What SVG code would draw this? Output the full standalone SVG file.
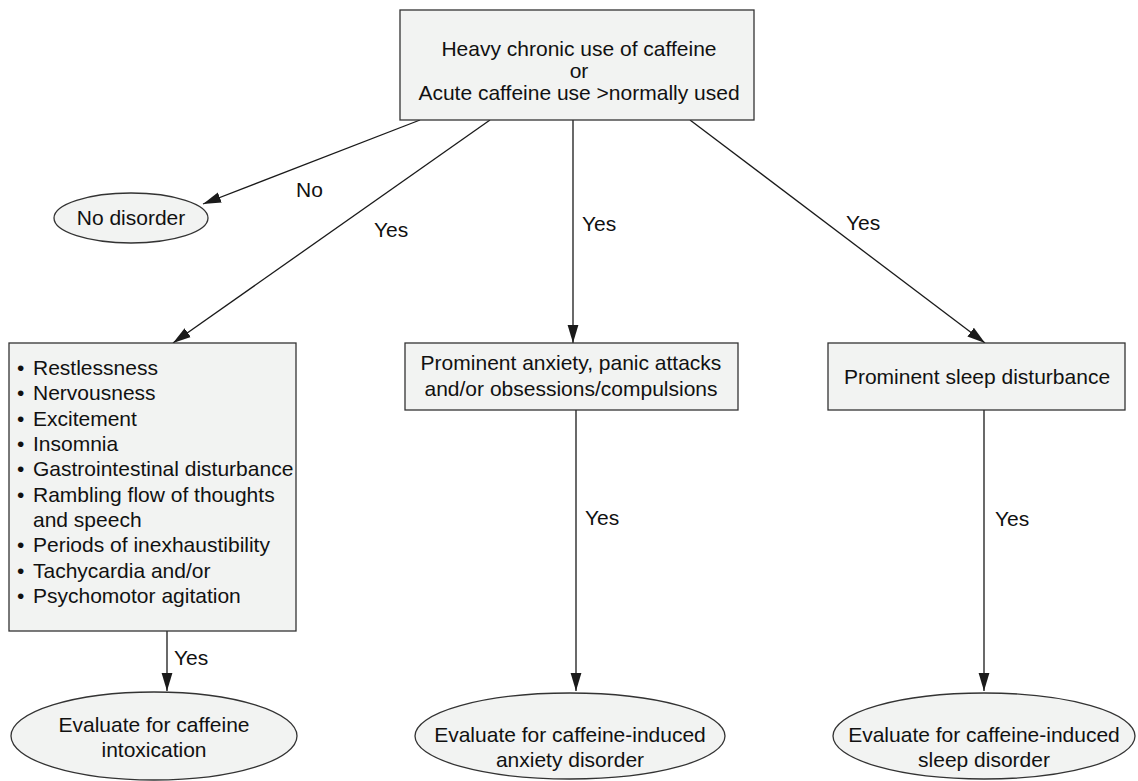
<svg xmlns="http://www.w3.org/2000/svg" width="1138" height="781" viewBox="0 0 1138 781">
  <defs>
    <marker id="arrow" viewBox="0 0 10 10" refX="10" refY="5" markerWidth="18" markerHeight="18" markerUnits="userSpaceOnUse" orient="auto">
      <path d="M0,2 L10,5 L0,8 z" fill="#1a1a1a"/>
    </marker>
    <style>
      .box { fill: #f2f3f2; stroke: #333; stroke-width: 1.3; }
      .t { font-family: "Liberation Sans", Arial, sans-serif; font-size: 21px; fill: #111; }
      .c { text-anchor: middle; }
      .edge { stroke: #1a1a1a; stroke-width: 1.3; fill: none; marker-end: url(#arrow); }
    </style>
  </defs>
  <rect width="1138" height="781" fill="#fff"/>

  <g id="connectors">
    <line class="edge" x1="420" y1="120" x2="203" y2="204"/>
    <line class="edge" x1="490" y1="120" x2="173" y2="343"/>
    <line class="edge" x1="573" y1="120" x2="573" y2="343"/>
    <line class="edge" x1="690" y1="120" x2="985" y2="343"/>
    <line class="edge" x1="167" y1="631" x2="167" y2="691"/>
    <line class="edge" x1="576" y1="410" x2="576" y2="691"/>
    <line class="edge" x1="984" y1="410" x2="984" y2="691"/>
    <text class="t" x="296" y="197">No</text>
    <text class="t" x="374" y="237">Yes</text>
    <text class="t" x="582" y="231">Yes</text>
    <text class="t" x="846" y="230">Yes</text>
    <text class="t" x="174" y="665">Yes</text>
    <text class="t" x="585" y="525">Yes</text>
    <text class="t" x="995" y="526">Yes</text>
  </g>

  <g id="start">
    <rect class="box" x="400" y="10" width="354" height="110"/>
    <text class="t c" x="579" y="56">Heavy chronic use of caffeine</text>
    <text class="t c" x="579" y="78">or</text>
    <text class="t c" x="579" y="100">Acute caffeine use &gt;normally used</text>
  </g>

  <g id="no-disorder">
    <ellipse class="box" cx="131" cy="218" rx="77" ry="25"/>
    <text class="t c" x="131" y="225">No disorder</text>
  </g>

  <g id="symptoms">
    <rect class="box" x="9" y="343" width="287" height="288"/>
    <g class="t">
      <text x="17" y="375">•</text><text x="33" y="375">Restlessness</text>
      <text x="17" y="400">•</text><text x="33" y="400">Nervousness</text>
      <text x="17" y="426">•</text><text x="33" y="426">Excitement</text>
      <text x="17" y="451">•</text><text x="33" y="451">Insomnia</text>
      <text x="17" y="476">•</text><text x="33" y="476">Gastrointestinal disturbance</text>
      <text x="17" y="502">•</text><text x="33" y="502">Rambling flow of thoughts</text>
      <text x="33" y="527">and speech</text>
      <text x="17" y="552">•</text><text x="33" y="552">Periods of inexhaustibility</text>
      <text x="17" y="578">•</text><text x="33" y="578">Tachycardia and/or</text>
      <text x="17" y="603">•</text><text x="33" y="603">Psychomotor agitation</text>
    </g>
  </g>

  <g id="anxiety">
    <rect class="box" x="405" y="343" width="333" height="67"/>
    <text class="t c" x="571" y="370">Prominent anxiety, panic attacks</text>
    <text class="t c" x="571" y="396">and/or obsessions/compulsions</text>
  </g>

  <g id="sleep">
    <rect class="box" x="828" y="343" width="297" height="67"/>
    <text class="t c" x="977" y="384">Prominent sleep disturbance</text>
  </g>

  <g id="eval-intoxication">
    <ellipse class="box" cx="154" cy="736" rx="143" ry="44"/>
    <text class="t c" x="154" y="732">Evaluate for caffeine</text>
    <text class="t c" x="154" y="757">intoxication</text>
  </g>

  <g id="eval-anxiety">
    <ellipse class="box" cx="570" cy="736" rx="155" ry="43"/>
    <text class="t c" x="570" y="742">Evaluate for caffeine-induced</text>
    <text class="t c" x="570" y="767">anxiety disorder</text>
  </g>

  <g id="eval-sleep">
    <ellipse class="box" cx="984" cy="736" rx="151" ry="43"/>
    <text class="t c" x="984" y="742">Evaluate for caffeine-induced</text>
    <text class="t c" x="984" y="767">sleep disorder</text>
  </g>
</svg>
